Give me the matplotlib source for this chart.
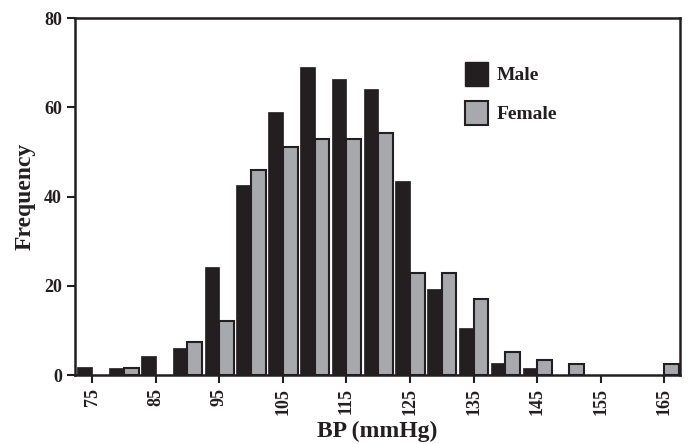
import numpy as np
import matplotlib
matplotlib.use("Agg")
from matplotlib import pyplot as plt
from matplotlib.patches import Patch

# bin centres (mmHg) and counts
bins = [75, 80, 85, 90, 95, 100, 105, 110, 115, 120, 125, 130, 135, 140, 145, 150, 155, 160, 165]
male = [1.8, 1.6, 4.4, 6.2, 24.2, 42.6, 58.9, 69.0, 66.3, 64.1, 43.5, 19.4, 10.5, 2.7, 1.7, 0, 0, 0, 0]
female = [0, 1.5, 0, 7.4, 12.1, 46.0, 51.1, 52.9, 52.9, 54.3, 23.0, 23.0, 17.0, 5.2, 3.4, 2.4, 0, 0, 2.4]
xticks = [75, 85, 95, 105, 115, 125, 135, 145, 155, 165]

plt.rcParams['font.family'] = ['Liberation Serif', 'DejaVu Serif']
plt.rcParams['font.weight'] = 'bold'

dark = '#231f20'
grey = '#a7a9ac'

fig = plt.figure(figsize=(6.89, 4.44), dpi=100)
ax = fig.add_axes([0.109, 0.155, 0.878, 0.804])

x = np.array(bins)
m = np.array(male)
f = np.array(female)
w = 2.3
# skip empty bins so no stray outlines sit on the baseline
ax.bar(x[m > 0] - w / 2, m[m > 0], width=w, color=dark, edgecolor=dark, linewidth=0.5, zorder=2)
ax.bar(x[f > 0] + w / 2, f[f > 0], width=w, color=grey, edgecolor=dark, linewidth=1.5, zorder=3)

ax.set_xlim(72.33, 167.45)
ax.set_ylim(0, 80)
ax.set_yticks([0, 20, 40, 60, 80])
ax.set_xticks(xticks)
ax.set_xticklabels([str(t) for t in xticks], rotation=90)
ax.tick_params(direction='out', length=6, width=1.5, labelsize=13, color=dark, labelcolor=dark)

for s in ax.spines.values():
    s.set_linewidth(1.8)
    s.set_color(dark)

ax.set_xlabel('BP (mmHg)', fontsize=17, fontweight='bold', color=dark, labelpad=4)
ax.set_ylabel('Frequency', fontsize=17, fontweight='bold', color=dark, labelpad=6)

handles = [Patch(facecolor=dark, edgecolor=dark, label='Male'),
           Patch(facecolor=grey, edgecolor=dark, linewidth=1.5, label='Female')]
ax.legend(handles=handles, loc='upper left', bbox_to_anchor=(0.644, 0.878), frameon=False,
          borderpad=0, borderaxespad=0,
          fontsize=14, handlelength=1.2, handleheight=1.53, labelspacing=0.78, handletextpad=0.45,
          labelcolor=dark)

fig.savefig('out.png', dpi=100)
